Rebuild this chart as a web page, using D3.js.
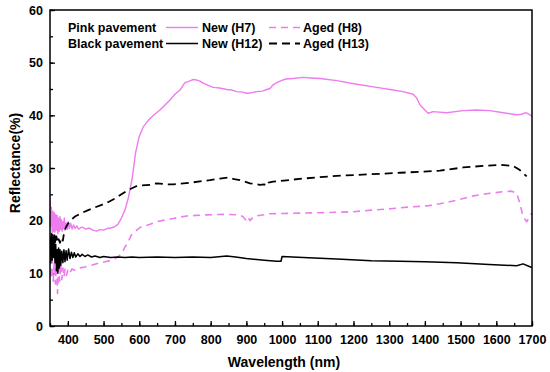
<!DOCTYPE html>
<html>
<head>
<meta charset="utf-8">
<script src="https://cdn.jsdelivr.net/npm/d3@7"></script>
<style>
  body { margin: 0; background: #fff; }
  svg { display: block; font-family: "Liberation Sans", Arial, sans-serif; font-weight: bold; }
  .axis text { font-size: 12.5px; font-weight: bold; fill: #000; }
  .axis path { display: none; }
  .axis line { stroke: #000; stroke-width: 1.3; }
</style>
</head>
<body>
<svg id="chart" width="550" height="372"></svg>
<script>
// wavelength (nm), reflectance (%)
var pinkNew = [
  [350,24.5],[352,19],[354,22.5],[356,17.5],[358,21.8],[360,18],[362,21.5],[364,17.8],[366,21.2],
  [368,18.2],[370,21],[372,17.5],[374,20.5],[376,18],[378,20.8],[380,18.3],[382,20.2],[384,18],
  [386,19.8],[388,18.5],[390,20.5],[392,18.2],[395,19.6],[398,18.3],[401,19.8],[404,18.5],[408,19.5],
  [412,18.4],[416,19.2],[420,18.5],[425,19],[430,18.4],[440,18.8],[450,18.4],[460,18.6],[470,18.2],
  [480,18.0],[490,18.3],[500,18.2],[510,18.5],[520,18.6],[530,18.8],[540,19.3],[550,20.5],[560,22],
  [570,24.5],[580,28],[590,33],[600,36],[611,37.8],[625,39],[640,40],[658,41],[670,41.8],[686,42.9],
  [700,44],[714,44.8],[728,46.2],[740,46.5],[750,46.8],[761,46.7],[770,46.5],[779,46.1],[790,45.8],
  [807,45.3],[825,45.2],[845,44.9],[860,44.8],[873,44.5],[890,44.4],[901,44.2],[915,44.3],[929,44.5],
  [945,44.6],[957,44.9],[966,45.1],[975,45.8],[985,46.2],[994,46.5],[1010,46.9],[1030,47.0],[1059,47.2],
  [1080,47.1],[1106,47.0],[1153,46.6],[1209,45.9],[1265,45.3],[1302,44.9],[1339,44.5],[1367,44.0],
  [1376,43.4],[1386,42.0],[1400,41.0],[1409,40.4],[1423,40.7],[1461,40.5],[1507,40.9],[1545,41.0],
  [1582,40.9],[1619,40.5],[1657,40.1],[1671,40.2],[1683,40.5],[1694,40.1],[1700,39.8]
];
var pinkAged = [
  [350,13],[353,9],[356,12.5],[359,8.5],[362,12],[365,8],[368,11.5],[371,6.2],[374,11],[377,8.5],
  [380,11.8],[383,8.8],[386,11],[389,9.3],[392,10.8],[396,9.6],[400,10.6],[405,10],[411,10.8],
  [420,10.6],[430,11],[448,11.2],[465,11.5],[485,11.9],[505,12.2],[523,12.5],[540,13.1],[551,13.8],
  [560,15],[569,16],[578,17.3],[588,17.9],[602,18.7],[616,19.0],[630,19.3],[649,19.8],[670,20.1],
  [695,20.4],[715,20.7],[733,20.9],[760,21.0],[789,21.1],[835,21.2],[877,21.1],[890,20.8],[896,20.3],
  [901,20.0],[905,20.6],[910,20.0],[918,20.6],[929,20.9],[966,21.3],[1022,21.4],[1106,21.5],
  [1199,21.7],[1250,22.0],[1311,22.3],[1358,22.6],[1405,22.8],[1442,23.2],[1489,23.9],[1536,24.7],
  [1582,25.2],[1619,25.5],[1643,25.6],[1657,25.2],[1666,23.3],[1675,20.8],[1685,19.8],[1694,20.8],[1700,21.5]
];
var blackNew = [
  [350,16],[352,12],[354,17.5],[356,12.5],[358,16.8],[360,13],[362,16],[364,12],[366,15.5],[368,10.5],
  [370,14.5],[372,10],[374,14.8],[376,11],[378,14.5],[380,11.5],[383,14.2],[386,12],[389,14.5],
  [392,12.2],[395,14.3],[398,12.5],[402,14.6],[406,12.8],[410,14],[414,13],[418,13.9],[422,13.1],
  [428,13.7],[434,13.2],[440,13.6],[448,13.2],[456,13.5],[466,13.1],[476,13.3],[490,13.0],[500,13.2],
  [520,13.0],[540,13.1],[560,13.0],[580,13.1],[600,13.0],[650,13.1],[700,13.0],[750,13.1],[800,13.0],
  [845,13.3],[870,13.1],[900,12.8],[950,12.5],[985,12.3],[997,12.3],[1000,13.2],[1059,13.0],
  [1153,12.7],[1250,12.4],[1330,12.3],[1400,12.2],[1489,12.0],[1580,11.7],[1657,11.45],[1675,11.8],[1699,11.1]
];
var blackAged = [
  [350,17],[353,14],[356,17.5],[359,15],[362,17.8],[365,15.5],[368,17],[371,15.8],[374,16.5],[378,15.8],
  [382,16.8],[386,16.2],[390,18],[395,18.8],[401,19.5],[410,20.2],[420,20.8],[440,21.5],[457,22.0],
  [475,22.5],[495,23.0],[515,23.6],[532,24.2],[550,25.0],[569,25.8],[590,26.5],[607,26.7],[630,26.8],
  [649,27.1],[677,26.9],[695,26.9],[742,27.2],[798,27.7],[826,28.0],[849,28.2],[866,27.9],[882,27.7],
  [910,27.1],[938,26.8],[950,26.9],[957,26.6],[962,27.2],[975,27.4],[1059,28.0],[1153,28.5],[1246,28.8],
  [1330,29.1],[1395,29.3],[1442,29.5],[1507,30.1],[1563,30.4],[1610,30.6],[1647,30.4],[1666,29.6],[1685,28.4]
];

var xTicks = [400,500,600,700,800,900,1000,1100,1200,1300,1400,1500,1600,1700];
var yTicks = [0,10,20,30,40,50,60];
var legendGroups = ["Pink pavement", "Black pavement"];
var legendLabels = [["New (H7)", "Aged (H8)"], ["New (H12)", "Aged (H13)"]];

var pink = "#ee7cee";

var series = [
  {data: pinkNew, color: pink, dash: null, width: 1.4},
  {data: pinkAged, color: pink, dash: "7,5", width: 1.6},
  {data: blackNew, color: "#000", dash: null, width: 1.5},
  {data: blackAged, color: "#000", dash: "8,5", width: 1.8}
];

var margin = {top: 10, left: 50},
    wd = 482, ht = 316;

var svg = d3.select("#chart");
var g = svg.append("g")
    .attr("transform", "translate(" + margin.left + "," + margin.top + ")");

var x = d3.scaleLinear().domain([350, 1700]).range([0, wd]);
var y = d3.scaleLinear().domain([0, 60]).range([ht, 0]);

// minor ticks first, then the labelled ones
g.append("g")
    .attr("class", "axis")
    .attr("transform", "translate(0," + ht + ")")
    .call(d3.axisBottom(x).tickValues(d3.range(350, 1701, 50)).tickSize(-3).tickFormat(""));
g.append("g")
    .attr("class", "axis")
    .attr("transform", "translate(0," + ht + ")")
    .call(d3.axisBottom(x).tickValues(xTicks).tickSize(-5).tickPadding(9).tickFormat(d3.format("d")));
g.append("g")
    .attr("class", "axis")
    .call(d3.axisLeft(y).tickValues(d3.range(0, 61, 5)).tickSize(-3).tickFormat(""));
g.append("g")
    .attr("class", "axis")
    .call(d3.axisLeft(y).tickValues(yTicks).tickSize(-5).tickPadding(7));

var line = d3.line()
    .x(function(d) { return x(d[0]); })
    .y(function(d) { return y(d[1]); });

g.append("defs").append("clipPath").attr("id", "clip")
  .append("rect").attr("width", wd).attr("height", ht);

g.append("g").attr("clip-path", "url(#clip)")
  .selectAll("path")
  .data(series)
  .enter()
    .append("path")
    .attr("d", function(d) { return line(d.data); })
    .attr("fill", "none")
    .attr("stroke", function(d) { return d.color; })
    .attr("stroke-width", function(d) { return d.width; })
    .attr("stroke-dasharray", function(d) { return d.dash; })
    .attr("stroke-linejoin", "round");

// frame
g.append("rect")
    .attr("width", wd).attr("height", ht)
    .attr("fill", "none")
    .attr("stroke", "#000")
    .attr("stroke-width", 1.5);

// legend
var leg = svg.append("g").style("font-size", "12.5px");
legendGroups.forEach(function(name, i) {
    var yy = 27.5 + i * 16;
    var solid = series[i * 2], dashed = series[i * 2 + 1];
    leg.append("text").attr("x", 68).attr("y", yy + 4.5).text(name);
    leg.append("line").attr("x1", 166).attr("x2", 198).attr("y1", yy).attr("y2", yy)
        .attr("stroke", solid.color).attr("stroke-width", solid.width);
    leg.append("text").attr("x", 202).attr("y", yy + 4.5).text(legendLabels[i][0]);
    leg.append("line").attr("x1", 269).attr("x2", 300).attr("y1", yy).attr("y2", yy)
        .attr("stroke", dashed.color).attr("stroke-width", dashed.width)
        .attr("stroke-dasharray", dashed.dash);
    leg.append("text").attr("x", 303).attr("y", yy + 4.5).text(legendLabels[i][1]);
});

// axis titles
svg.append("text")
    .attr("x", 284).attr("y", 367)
    .attr("text-anchor", "middle")
    .style("font-size", "14px")
    .text("Wavelength (nm)");
svg.append("text")
    .attr("transform", "translate(20,163) rotate(-90)")
    .attr("text-anchor", "middle")
    .style("font-size", "14px")
    .text("Reflectance(%)");
</script>
</body>
</html>
